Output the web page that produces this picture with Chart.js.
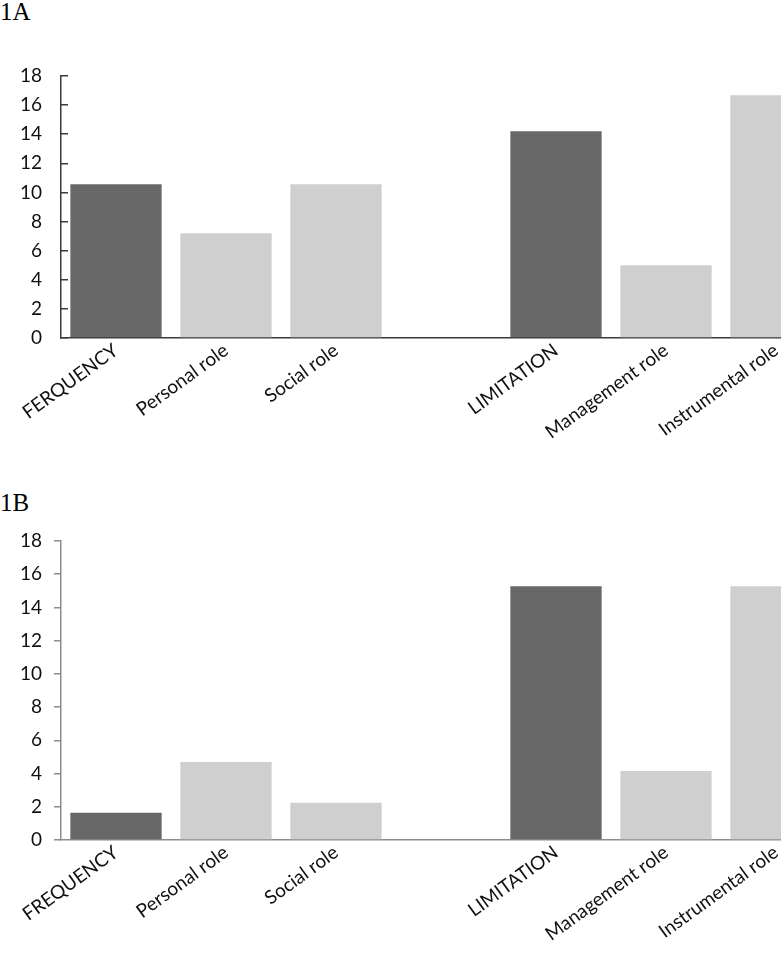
<!DOCTYPE html>
<html>
<head>
<meta charset="utf-8">
<script src="https://cdn.jsdelivr.net/npm/chart.js@4/dist/chart.umd.min.js"></script>
<style>
    html, body { margin: 0; padding: 0; background: #fff; overflow: hidden; width: 781px; height: 962px; }
    .panel-label { position: absolute; left: 0; font-family: "Liberation Serif", serif; font-size: 25px; line-height: 25px; color: #000; }
    canvas { position: absolute; left: 0; }
</style>
</head>
<body>
<div class="panel-label" style="top:-1px;">1A</div>
<canvas id="chartA" width="840" height="480" style="top:0px;"></canvas>
<div class="panel-label" style="top:490px;">1B</div>
<canvas id="chartB" width="840" height="482" style="top:480px;"></canvas>

<script>
// ===== Data =====
const labelsA = ["FERQUENCY", "Personal role", "Social role", "", "LIMITATION", "Management role", "Instrumental role"];
const labelsB = ["FREQUENCY", "Personal role", "Social role", "", "LIMITATION", "Management role", "Instrumental role"];
const valuesA = [10.56, 7.19, 10.56, null, 14.2, 5.0, 16.67];
const valuesB = [1.64, 4.69, 2.25, null, 15.27, 4.15, 15.27];
const yTicks = [0, 2, 4, 6, 8, 10, 12, 14, 16, 18];

const DARK = "#686868";
const LIGHT = "#cfcfcf";
const barColors = [DARK, LIGHT, LIGHT, LIGHT, DARK, LIGHT, LIGHT];

// ===== Build one chart =====
function makeChart(canvasId, labels, values, opts) {
    const ctx = document.getElementById(canvasId).getContext("2d");
    return new Chart(ctx, {
        type: "bar",
        data: {
            labels: labels,
            datasets: [{
                data: values,
                backgroundColor: barColors,
                borderWidth: 0,
                barPercentage: 0.83,
                categoryPercentage: 1.0
            }]
        },
        options: {
            responsive: false,
            animation: false,
            devicePixelRatio: 1,
            layout: { padding: { top: opts.top, right: 9, left: 0, bottom: 0 } },
            plugins: { legend: { display: false }, tooltip: { enabled: false } },
            scales: {
                x: {
                    grid: { display: false, drawTicks: false },
                    border: { display: true, color: opts.axisColor, width: 1.5 },
                    ticks: {
                        autoSkip: false,
                        minRotation: 36,
                        maxRotation: 36,
                        padding: 1,
                        color: "#111",
                        font: { family: "Lato", size: 19 }
                    },
                    afterFit: scale => { scale.height = opts.xHeight; }
                },
                y: {
                    min: 0,
                    max: 18,
                    afterBuildTicks: scale => { scale.ticks = yTicks.map(v => ({ value: v })); },
                    grid: {
                        drawOnChartArea: false,
                        drawTicks: true,
                        tickLength: opts.tickLength,
                        color: opts.axisColor,
                        lineWidth: 1.5
                    },
                    border: { display: true, color: opts.axisColor, width: 1.5 },
                    ticks: {
                        padding: opts.tickPad,
                        color: "#111",
                        font: { family: "Lato", size: 19 }
                    },
                    afterFit: scale => { scale.width = 61; }
                }
            }
        }
    });
}

// ===== Charts =====
makeChart("chartA", labelsA, valuesA, { top: 76, xHeight: 142, axisColor: "#3a3a3a", tickLength: -7, tickPad: 26 });
makeChart("chartB", labelsB, valuesB, { top: 61, xHeight: 122, axisColor: "#8c8c8c", tickLength: 7, tickPad: 12 });
</script>
</body>
</html>
